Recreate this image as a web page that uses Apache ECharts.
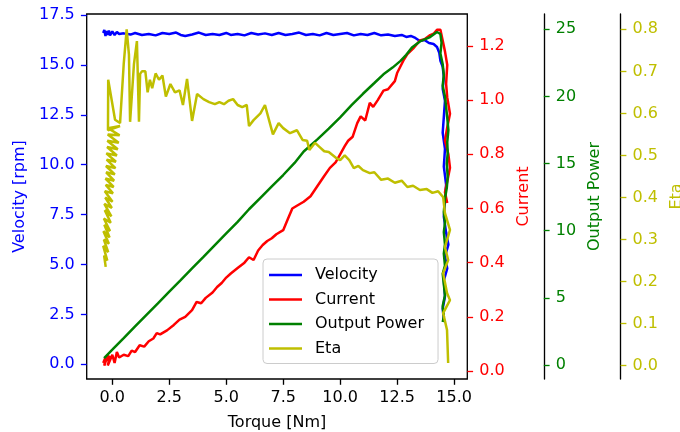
<!DOCTYPE html>
<html>
<head>
<meta charset="utf-8">
<script src="https://cdn.jsdelivr.net/npm/echarts@6/dist/echarts.min.js"></script>
<style>html,body{margin:0;padding:0;background:#fff}#c{width:680px;height:432px}</style>
</head>
<body>
<div id="c"></div>
<script>
// ---- data ----
const seriesNames = ['Velocity', 'Current', 'Output Power', 'Eta'];
const xTicks = [0, 2.5, 5, 7.5, 10, 12.5, 15];
const velocityTicks = [0, 2.5, 5, 7.5, 10, 12.5, 15, 17.5];
const currentTicks = [0, 0.2, 0.4, 0.6, 0.8, 1.0, 1.2];
const powerTicks = [0, 5, 10, 15, 20, 25];
const etaTicks = [0, 0.1, 0.2, 0.3, 0.4, 0.5, 0.6, 0.7, 0.8];

const velocityTorque = [-0.4,-0.35,-0.3,-0.25,-0.2,-0.15,-0.1,0,0.1,0.2,0.3,0.5,0.8,1.0,1.3,1.6,1.9,2.2,2.5,2.8,3.0,3.2,3.5,3.8,4.1,4.4,4.7,5.0,5.2,5.5,5.8,6.1,6.4,6.7,7.0,7.3,7.6,7.9,8.2,8.5,8.8,9.1,9.4,9.7,10.0,10.3,10.6,10.9,11.2,11.5,11.8,12.1,12.4,12.7,12.9,13.1,13.3,13.5,13.7,13.9,14.1,14.25,14.35,14.4,14.5,14.55,14.5,14.6,14.55,14.5,14.6,14.55,14.65,14.6,14.55,14.65,14.75,14.6,14.7,14.55,14.6,14.5,14.55];
const velocityRpm = [16.6,16.75,16.45,16.7,16.5,16.72,16.48,16.68,16.5,16.65,16.55,16.58,16.52,16.6,16.5,16.55,16.48,16.6,16.55,16.62,16.5,16.45,16.52,16.62,16.5,16.55,16.5,16.6,16.5,16.55,16.48,16.6,16.52,16.58,16.5,16.6,16.5,16.55,16.62,16.5,16.55,16.48,16.6,16.5,16.55,16.6,16.48,16.55,16.5,16.6,16.48,16.52,16.45,16.5,16.4,16.45,16.35,16.2,16.25,16.1,16.05,15.9,15.6,15.2,14.9,14.4,13.8,13.2,12.4,11.6,10.8,9.9,9.0,8.2,7.4,6.6,6.0,5.4,4.8,4.2,3.4,2.8,2.2];

const currentTorque = [-0.4,-0.3,-0.35,-0.2,-0.3,-0.1,-0.2,0.0,0.1,0.2,0.3,0.5,0.7,0.85,1.0,1.2,1.4,1.6,1.8,1.95,2.1,2.4,2.7,2.95,3.2,3.5,3.7,3.9,4.1,4.4,4.6,4.8,5.0,5.2,5.5,5.8,6.0,6.2,6.4,6.6,6.8,7.0,7.2,7.5,7.7,7.9,8.1,8.4,8.7,8.9,9.1,9.3,9.55,9.8,10.0,10.2,10.35,10.55,10.75,10.9,11.1,11.3,11.45,11.65,11.9,12.1,12.4,12.5,12.65,12.8,12.95,13.2,13.5,13.7,13.95,14.1,14.25,14.4,14.5,14.6,14.7,14.65,14.7,14.82,14.7,14.6,14.75,14.82,14.7,14.6,14.7];
const currentAmps = [0.03,0.05,0.02,0.06,0.035,0.055,0.02,0.06,0.03,0.07,0.05,0.06,0.055,0.075,0.07,0.095,0.09,0.11,0.12,0.14,0.135,0.15,0.17,0.19,0.2,0.225,0.255,0.25,0.27,0.29,0.31,0.325,0.345,0.36,0.38,0.4,0.42,0.41,0.445,0.465,0.48,0.49,0.505,0.52,0.56,0.6,0.61,0.625,0.645,0.67,0.695,0.72,0.75,0.77,0.8,0.83,0.85,0.865,0.915,0.94,0.925,0.99,0.975,1.0,1.035,1.04,1.07,1.1,1.125,1.15,1.17,1.19,1.22,1.225,1.24,1.245,1.26,1.26,1.22,1.18,1.13,1.06,1.01,0.95,0.9,0.85,0.8,0.75,0.7,0.66,0.62];

const powerTorque = [-0.36,-0.2,0,0.5,1.0,1.5,2.0,2.5,3.0,3.5,4.0,4.5,5.0,5.5,6.0,6.5,7.0,7.5,8.0,8.4,9.0,9.5,10.0,10.5,11.0,11.5,11.9,12.3,12.65,12.9,13.15,13.5,13.95,14.25,14.4,14.45,14.4,14.5,14.55,14.5,14.6,14.65,14.7,14.75,14.7,14.72,14.68,14.72,14.68,14.6,14.55,14.6,14.55,14.6,14.55,14.6,14.5,14.55,14.6,14.5,14.55,14.5];
const powerWatts = [0.52,0.8,1.14,2.0,2.87,3.74,4.6,5.47,6.33,7.2,8.06,8.93,9.8,10.66,11.6,12.45,13.3,14.15,15.05,15.9,16.8,17.6,18.45,19.35,20.2,21.0,21.65,22.15,22.65,23.1,23.65,24.1,24.42,24.8,24.65,24.0,23.2,22.4,21.6,20.8,20.0,19.2,18.4,17.5,16.6,15.8,15.0,14.0,13.2,12.4,11.4,10.6,9.9,9.0,8.3,7.4,6.8,6.0,5.2,4.4,3.6,3.2];

const etaTorque = [-0.29,-0.36,-0.22,-0.40,-0.18,-0.37,-0.15,-0.39,-0.12,-0.35,-0.10,-0.37,-0.07,-0.33,-0.04,-0.35,-0.02,-0.31,0.01,-0.33,0.03,-0.29,0.06,-0.30,0.08,-0.27,0.11,-0.28,0.14,-0.25,0.16,-0.26,0.2,-0.23,0.24,-0.22,0.28,-0.2,0.32,-0.19,0.34,-0.19,-0.18,0.12,0.34,0.5,0.63,0.73,0.78,0.95,1.08,1.17,1.22,1.3,1.45,1.55,1.65,1.75,1.9,2.05,2.2,2.35,2.55,2.75,2.95,3.1,3.28,3.5,3.72,4.0,4.25,4.5,4.7,4.9,5.1,5.3,5.5,5.7,5.9,6.0,6.2,6.5,6.7,6.9,7.05,7.3,7.5,7.8,8.1,8.35,8.55,8.65,8.9,9.1,9.3,9.5,9.8,10.0,10.2,10.4,10.6,10.8,11.0,11.3,11.5,11.8,12.1,12.4,12.7,12.95,13.2,13.5,13.8,14.05,14.3,14.52,14.6,14.82,14.6,14.74,14.52,14.69,14.82,14.52,14.69,14.74];
const etaValues = [0.235,0.262,0.25,0.285,0.27,0.30,0.29,0.32,0.305,0.335,0.32,0.35,0.34,0.37,0.355,0.385,0.375,0.40,0.39,0.415,0.41,0.43,0.425,0.445,0.44,0.46,0.455,0.475,0.47,0.49,0.485,0.505,0.50,0.52,0.515,0.535,0.53,0.55,0.548,0.565,0.57,0.56,0.68,0.585,0.577,0.717,0.80,0.74,0.58,0.717,0.772,0.58,0.694,0.7,0.7,0.65,0.68,0.66,0.695,0.68,0.69,0.64,0.67,0.65,0.655,0.62,0.682,0.582,0.646,0.634,0.627,0.622,0.627,0.622,0.63,0.634,0.62,0.615,0.62,0.57,0.584,0.6,0.62,0.58,0.55,0.577,0.565,0.553,0.56,0.537,0.535,0.513,0.53,0.52,0.51,0.508,0.495,0.489,0.5,0.489,0.47,0.475,0.465,0.458,0.46,0.442,0.445,0.435,0.44,0.425,0.428,0.418,0.42,0.411,0.415,0.401,0.363,0.323,0.282,0.251,0.22,0.173,0.156,0.125,0.085,0.0065];

// ---- build ----
const zip = (xs, ys) => xs.map((x, i) => [x, ys[i]]);
const FONT = 'DejaVu Sans';
const FS = 16;
const colors = ['#0000ff', '#ff0000', '#008000', '#bfbf00'];

function yAxisCfg(opts) {
  return {
    type: 'value',
    position: opts.position,
    offset: opts.offset || 0,
    min: opts.min, max: opts.max,
    name: opts.name,
    nameLocation: 'middle',
    nameRotate: 90,
    nameGap: opts.nameGap,
    nameTextStyle: { color: opts.color, fontFamily: FONT, fontSize: FS },
    axisLine: { show: opts.line, onZero: false, lineStyle: { color: '#000', width: 1.33 } },
    axisTick: { show: true, inside: false, length: 5.8, customValues: opts.ticks, lineStyle: { color: opts.color, width: 1.33 } },
    axisLabel: { show: true, margin: 12, customValues: opts.ticks, color: opts.color, fontFamily: FONT, fontSize: FS,
      formatter: v => opts.fmt(v) },
    splitLine: { show: false }
  };
}

const chart = echarts.init(document.getElementById('c'), null, { renderer: 'canvas' });
chart.setOption({
  animation: false,
  backgroundColor: '#fff',
  grid: { left: 86.7, right: 680 - 467.3, top: 14, bottom: 432 - 379, containLabel: false, outerBoundsMode: 'none',
    show: true, borderColor: '#000', borderWidth: 1.33, backgroundColor: 'transparent' },
  legend: {
    data: seriesNames, orient: 'vertical', left: 263, top: 259,
    icon: 'rect', itemWidth: 33, itemHeight: 2.5, itemGap: 8.5,
    padding: [8, 14, 7, 6],
    borderColor: '#cccccc', borderWidth: 1, borderRadius: 4,
    backgroundColor: 'rgba(255,255,255,0.8)',
    textStyle: { color: '#000', fontFamily: FONT, fontSize: FS, lineHeight: 16, padding: [0, 0, 0, 8] }
  },
  xAxis: {
    type: 'value', min: -1.124, max: 15.58,
    name: 'Torque [Nm]', nameLocation: 'middle', nameGap: 36,
    nameTextStyle: { color: '#000', fontFamily: FONT, fontSize: FS },
    axisLine: { show: false, onZero: false },
    axisTick: { show: true, length: 5.8, customValues: xTicks, lineStyle: { color: '#000', width: 1.33 } },
    axisLabel: { margin: 11, customValues: xTicks, color: '#000', fontFamily: FONT, fontSize: FS, formatter: v => v.toFixed(1) },
    splitLine: { show: false }
  },
  yAxis: [
    yAxisCfg({ position: 'left', min: -0.736, max: 17.55, name: 'Velocity [rpm]', nameGap: 56, color: colors[0], line: false, ticks: velocityTicks, fmt: v => v.toFixed(1) }),
    yAxisCfg({ position: 'right', min: -0.0295, max: 1.318, name: 'Current', nameGap: 44, color: colors[1], line: false, ticks: currentTicks, fmt: v => v.toFixed(1) }),
    yAxisCfg({ position: 'right', offset: 76.5, min: -1.04, max: 26.14, name: 'Output Power', nameGap: 37, color: colors[2], line: true, ticks: powerTicks, fmt: v => String(Math.round(v)) }),
    yAxisCfg({ position: 'right', offset: 153.3, min: -0.0316, max: 0.8364, name: 'Eta', nameGap: 44, color: colors[3], line: true, ticks: etaTicks, fmt: v => v.toFixed(1) })
  ],
  series: [
    { name: seriesNames[0], type: 'line', yAxisIndex: 0, data: zip(velocityTorque, velocityRpm) },
    { name: seriesNames[1], type: 'line', yAxisIndex: 1, data: zip(currentTorque, currentAmps) },
    { name: seriesNames[2], type: 'line', yAxisIndex: 2, data: zip(powerTorque, powerWatts) },
    { name: seriesNames[3], type: 'line', yAxisIndex: 3, data: zip(etaTorque, etaValues) }
  ].map((s, i) => Object.assign(s, { showSymbol: false, symbol: 'none', color: colors[i], lineStyle: { width: 2.5, color: colors[i] } }))
});
</script>
</body>
</html>
